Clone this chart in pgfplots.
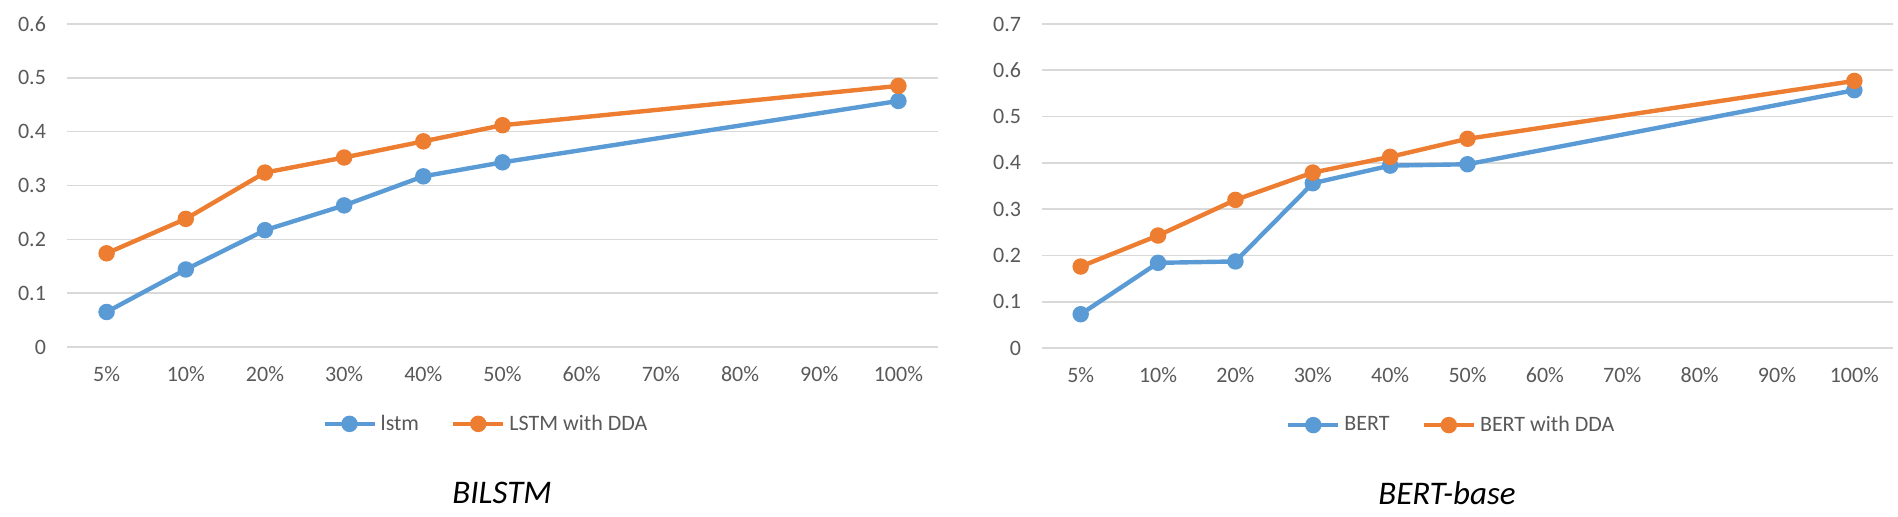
\documentclass[border=0pt]{standalone}
\usepackage{fontspec}
\setmainfont{Carlito}
\usepackage{pgfplots}
\pgfplotsset{compat=1.18}
\definecolor{eblue}{HTML}{5B9BD5}
\definecolor{eorange}{HTML}{ED7D31}
\definecolor{egrid}{HTML}{D9D9D9}
\definecolor{etext}{HTML}{595959}
\pgfplotsset{mystyle/.style={
  scale only axis, xmin=-0.5, xmax=10.5, ymin=0,
  xtick={0,1,2,3,4,5,6,7,8,9,10},
  xticklabels={5\%,10\%,20\%,30\%,40\%,50\%,60\%,70\%,80\%,90\%,100\%},
  ymajorgrids, major grid style={egrid, line width=0.8pt},
  axis line style={draw=none}, tick style={draw=none},
  ticklabel style={font=\fontsize{11}{13}\selectfont, text=etext},
  /pgf/number format/assume math mode=true,
  yticklabel style={xshift=-7pt},
  xticklabel style={yshift=-6pt},
  clip=false,
  legend style={draw=none, at={(0.482,-0.238)}, anchor=center,
    legend columns=2, font=\fontsize{11}{13}\selectfont, text=etext,
    /tikz/every even column/.append style={column sep=14pt}},
  legend image code/.code={\draw[mark repeat=2,mark phase=2,#1] plot coordinates {(0pt,0pt)(12.5pt,0pt)(25pt,0pt)};},
  every axis plot/.append style={line width=2.2pt, mark=*, mark size=3pt},
}}
\begin{document}
\begin{tikzpicture}
\useasboundingbox (0,0) rectangle (949pt,258.5pt);
\begin{axis}[mystyle, at={(33.5pt,85pt)}, anchor=south west,
  width=435.5pt, height=161.5pt, ymax=0.6,
  ytick={0,0.1,0.2,0.3,0.4,0.5,0.6},
  yticklabels={0,0.1,0.2,0.3,0.4,0.5,0.6}]
\addplot[color=eblue] coordinates {(0,0.065) (1,0.144) (2,0.217) (3,0.263) (4,0.317) (5,0.343) (10,0.457)};
\addlegendentry{lstm}
\addplot[color=eorange] coordinates {(0,0.174) (1,0.238) (2,0.324) (3,0.352) (4,0.382) (5,0.412) (10,0.485)};
\addlegendentry{LSTM with DDA}
\end{axis}
\begin{axis}[mystyle, at={(521pt,84.5pt)}, anchor=south west,
  width=425.5pt, height=162pt, ymax=0.7,
  ytick={0,0.1,0.2,0.3,0.4,0.5,0.6,0.7},
  yticklabels={0,0.1,0.2,0.3,0.4,0.5,0.6,0.7}]
\addplot[color=eblue] coordinates {(0,0.073) (1,0.184) (2,0.187) (3,0.356) (4,0.394) (5,0.397) (10,0.557)};
\addlegendentry{BERT}
\addplot[color=eorange] coordinates {(0,0.176) (1,0.243) (2,0.320) (3,0.379) (4,0.413) (5,0.452) (10,0.577)};
\addlegendentry{BERT with DDA}
\end{axis}
\node[font=\fontsize{16.5}{18}\selectfont\itshape, text=black] at (251pt,12pt) {BILSTM};
\node[font=\fontsize{16.5}{18}\selectfont\itshape, text=black] at (723.5pt,12pt) {BERT-base};
\end{tikzpicture}
\end{document}
